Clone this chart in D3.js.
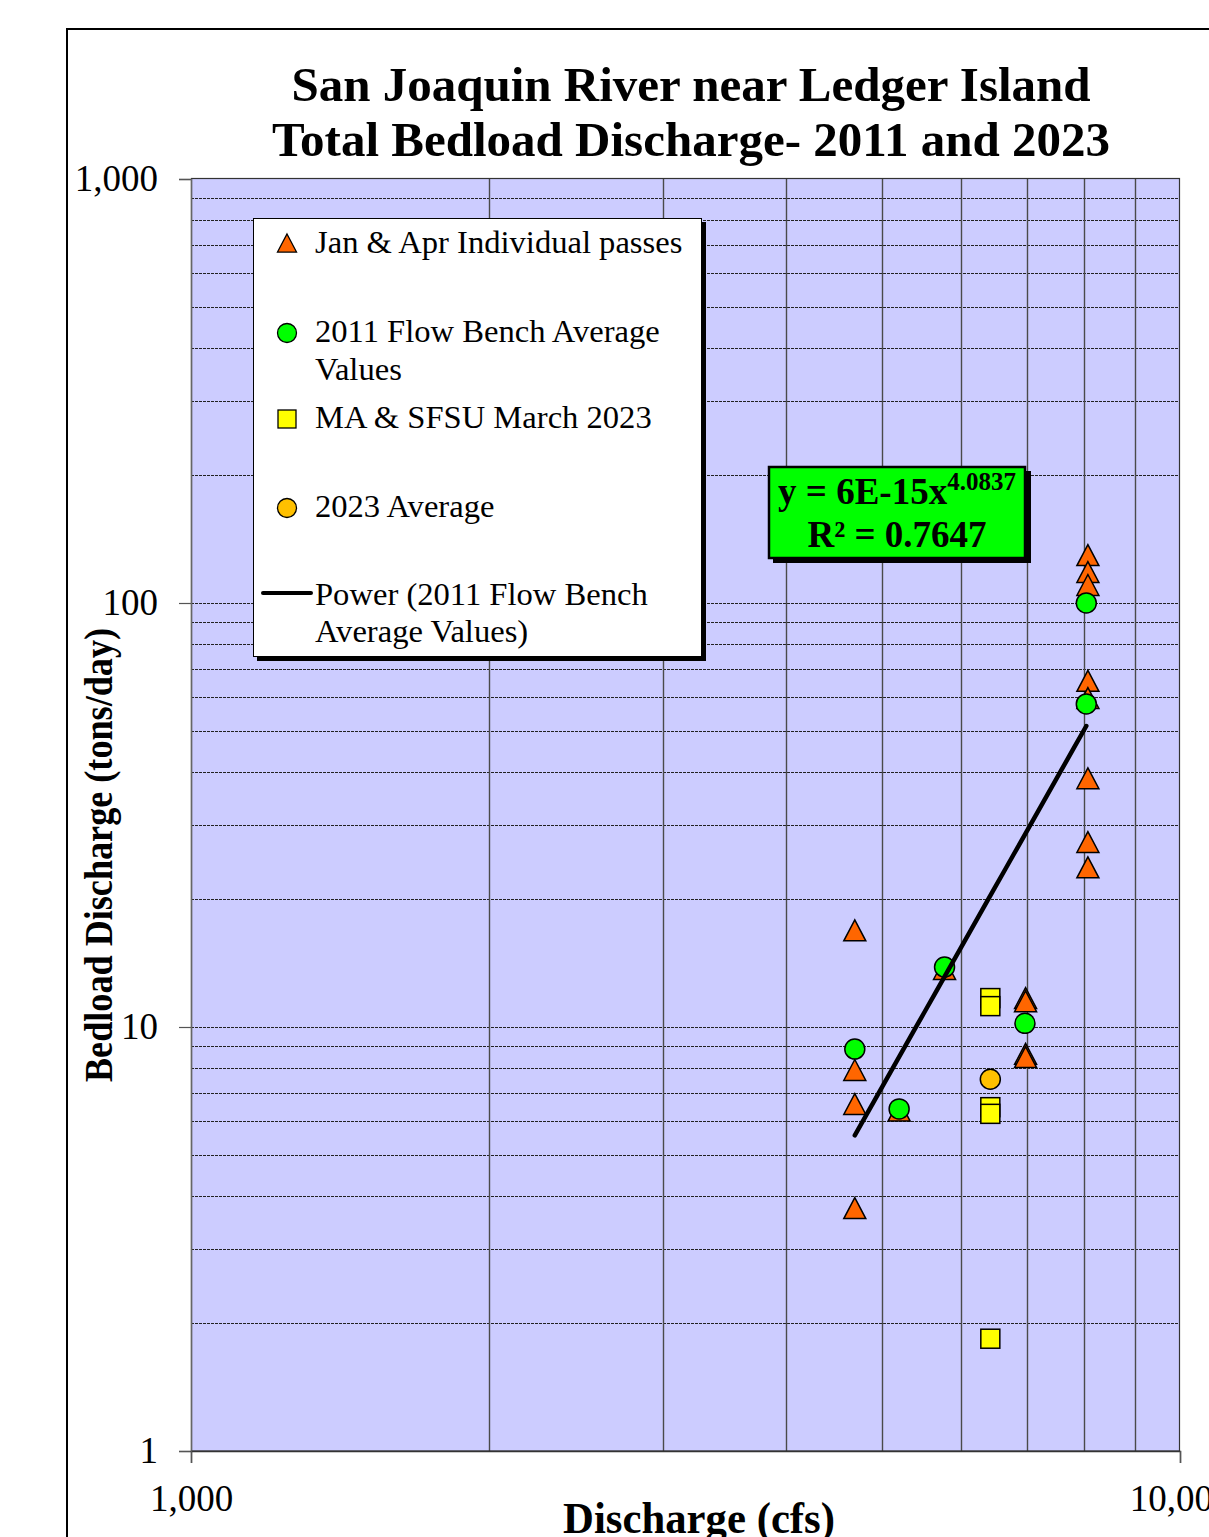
<!DOCTYPE html>
<html>
<head>
<meta charset="utf-8">
<script src="https://cdn.jsdelivr.net/npm/d3@7"></script>
<style>
  html, body { margin: 0; padding: 0; background: #fff; overflow: hidden; }
  svg { display: block; }
  text { font-family: "Liberation Serif", "Times New Roman", serif; fill: #000; }
</style>
</head>
<body>
<svg id="chart" width="1209" height="1537"></svg>
<script>
// ---------- data ----------
const titleLines = ["San Joaquin River near Ledger Island", "Total Bedload Discharge- 2011 and 2023"];
const xTitle = "Discharge (cfs)";
const yTitle = "Bedload Discharge (tons/day)";
const xTicks = [1000, 10000];
const yTicks = [1, 10, 100, 1000];

// Jan & Apr Individual passes
const passQ    = [4690, 4690, 4690, 4690, 5200, 5780, 6980, 6980, 6980, 6980, 8070, 8070, 8070, 8070, 8070, 8070, 8070, 8070];
const passLoad = [16.9, 7.92, 6.58, 3.74, 6.35, 13.7, 11.7, 11.5, 8.64, 8.49, 129.7, 118.3, 110.3, 65.5, 59.7, 38.6, 27.3, 23.8];
// 2011 Flow Bench Average Values
const benchQ    = [4690, 5200, 5780, 6970, 8040, 8040];
const benchLoad = [8.87, 6.41, 13.85, 10.2, 57.8, 100];
// MA & SFSU March 2023
const maQ    = [6430, 6430, 6430, 6430, 6430];
const maLoad = [11.7, 11.2, 6.47, 6.24, 1.84];
// 2023 Average
const avgQ    = [6430];
const avgLoad = [7.53];

const legendLabels = [
  ["Jan & Apr Individual passes"],
  ["2011 Flow Bench Average", "Values"],
  ["MA & SFSU March 2023"],
  ["2023 Average"],
  ["Power (2011 Flow Bench", "Average Values)"]
];
const eqMain = "y = 6E-15x";
const eqExp = "4.0837";
const eqR2 = "R² = 0.7647";

// ---------- layout ----------
const svg = d3.select("#chart");
const L = 191, R = 1180, T = 179, B = 1451;
const x = d3.scaleLog().domain([1000, 10000]).range([L, R]);
const y = d3.scaleLog().domain([1, 1000]).range([B, T]);

const colors = { pass: "#FF6600", bench: "#00FF00", ma: "#FFFF00", avg: "#FFC000", plot: "#CCCCFF" };

// outer frame
svg.append("line").attr("x1", 67).attr("x2", 1209).attr("y1", 29).attr("y2", 29)
  .attr("stroke", "#000").attr("stroke-width", 2);
svg.append("line").attr("x1", 67).attr("x2", 67).attr("y1", 28).attr("y2", 1537)
  .attr("stroke", "#000").attr("stroke-width", 2);

// title
svg.append("text").attr("x", 691).attr("y", 101).attr("text-anchor", "middle")
  .attr("font-size", 49).attr("font-weight", "bold").text(titleLines[0]);
svg.append("text").attr("x", 691).attr("y", 156).attr("text-anchor", "middle")
  .attr("font-size", 49).attr("font-weight", "bold").text(titleLines[1]);

// plot area
svg.append("rect").attr("x", L).attr("y", T).attr("width", R - L).attr("height", B - T)
  .attr("fill", colors.plot);

// grid lines
const xGrid = [];
for (let d = 2; d <= 9; d++) xGrid.push(d * 1000);
const yGrid = [];
[1, 10, 100].forEach(b => { for (let d = 2; d <= 9; d++) yGrid.push(b * d); });
yGrid.push(10, 100);

const g = svg.append("g");
g.selectAll(".hg").data(yGrid).enter().append("line")
  .attr("x1", L).attr("x2", R)
  .attr("y1", d => Math.round(y(d)) + 0.5).attr("y2", d => Math.round(y(d)) + 0.5)
  .attr("stroke", "#222").attr("stroke-width", 1.2).attr("stroke-dasharray", "3,1");
g.selectAll(".vg").data(xGrid).enter().append("line")
  .attr("y1", T).attr("y2", B)
  .attr("x1", d => Math.round(x(d)) + 0.5).attr("x2", d => Math.round(x(d)) + 0.5)
  .attr("stroke", "#4a4a4a").attr("stroke-width", 1.4);

// plot border
svg.append("rect").attr("x", L + 0.5).attr("y", T - 0.5).attr("width", R - L - 1).attr("height", B - T + 0.5)
  .attr("fill", "none").attr("stroke", "#333").attr("stroke-width", 1.2);

// axes
const yAxis = d3.axisLeft(y).tickValues(yTicks).tickSize(12).tickPadding(21).tickFormat(d3.format(","));
const ya = svg.append("g").attr("transform", `translate(${L},0)`).call(yAxis);
ya.select(".domain").attr("stroke", "#666").attr("stroke-width", 1.5);
ya.selectAll(".tick line").attr("stroke", "#555").attr("stroke-width", 1.2);
ya.selectAll(".tick text").attr("font-size", 37).attr("font-family", "Liberation Serif, serif").attr("fill", "#000");

const xAxis = d3.axisBottom(x).tickValues(xTicks).tickSize(12).tickPadding(22).tickFormat(d3.format(","));
const xa = svg.append("g").attr("transform", `translate(0,${B})`).call(xAxis);
xa.select(".domain").attr("stroke", "#333").attr("stroke-width", 1.5);
xa.selectAll(".tick line").attr("stroke", "#555").attr("stroke-width", 1.2);
xa.selectAll(".tick text").attr("font-size", 37).attr("font-family", "Liberation Serif, serif").attr("fill", "#000");

// axis titles
svg.append("text").attr("x", 699).attr("y", 1533).attr("text-anchor", "middle")
  .attr("font-size", 44).attr("font-weight", "bold")
  .attr("textLength", 272).attr("lengthAdjust", "spacingAndGlyphs").text(xTitle);
svg.append("text").attr("transform", "translate(112,855) rotate(-90)").attr("text-anchor", "middle")
  .attr("font-size", 40).attr("font-weight", "bold")
  .attr("textLength", 454).attr("lengthAdjust", "spacingAndGlyphs").text(yTitle);

// ---------- marks ----------
const triPath = (w) => {
  const h = w * 0.95;
  return `M0,${-h / 2}L${w / 2},${h / 2}L${-w / 2},${h / 2}Z`;
};

const passData = passQ.map((q, i) => ({ q, v: passLoad[i] }));
const benchData = benchQ.map((q, i) => ({ q, v: benchLoad[i] }));
const maData = maQ.map((q, i) => ({ q, v: maLoad[i] }));
const avgData = avgQ.map((q, i) => ({ q, v: avgLoad[i] }));

const marks = svg.append("g");
marks.selectAll(".pass").data(passData).enter().append("path")
  .attr("d", triPath(22))
  .attr("transform", d => `translate(${x(d.q)},${y(d.v)})`)
  .attr("fill", colors.pass).attr("stroke", "#000").attr("stroke-width", 1.5).attr("stroke-linejoin", "miter");

// trend line (power fit to bench values, least squares in log-log space)
const lx = benchData.map(d => Math.log10(d.q)), ly = benchData.map(d => Math.log10(d.v));
const mx = d3.mean(lx), my = d3.mean(ly);
const slope = d3.sum(lx.map((v, i) => (v - mx) * (ly[i] - my))) / d3.sum(lx.map(v => (v - mx) ** 2));
const icpt = my - slope * mx;
const [qmin, qmax] = d3.extent(benchQ);
const trend = d3.range(0, 21).map(i => {
  const q = qmin * Math.pow(qmax / qmin, i / 20);
  return { q, v: Math.pow(10, icpt + slope * Math.log10(q)) };
});

marks.selectAll(".bench").data(benchData).enter().append("circle")
  .attr("cx", d => x(d.q)).attr("cy", d => y(d.v)).attr("r", 10)
  .attr("fill", colors.bench).attr("stroke", "#000").attr("stroke-width", 1.5);

marks.selectAll(".ma").data(maData).enter().append("rect")
  .attr("x", d => x(d.q) - 9.5).attr("y", d => y(d.v) - 9.5).attr("width", 19).attr("height", 19)
  .attr("fill", colors.ma).attr("stroke", "#000").attr("stroke-width", 1.5);

marks.selectAll(".avg").data(avgData).enter().append("circle")
  .attr("cx", d => x(d.q)).attr("cy", d => y(d.v)).attr("r", 10)
  .attr("fill", colors.avg).attr("stroke", "#000").attr("stroke-width", 1.5);

marks.append("path").datum(trend)
  .attr("d", d3.line().x(d => x(d.q)).y(d => y(d.v)))
  .attr("fill", "none").attr("stroke", "#000").attr("stroke-width", 4.5).attr("stroke-linecap", "round");

// ---------- legend ----------
const lg = svg.append("g");
lg.append("rect").attr("x", 257).attr("y", 222).attr("width", 449).attr("height", 439).attr("fill", "#000");
lg.append("rect").attr("x", 253.5).attr("y", 218.5).attr("width", 448).attr("height", 438)
  .attr("fill", "#fff").attr("stroke", "#000").attr("stroke-width", 1);

const lfs = 32.6;
const addLines = (lines, y0, dy) => {
  lines.forEach((t, i) => lg.append("text").attr("x", 315).attr("y", y0 + i * dy).attr("font-size", lfs).text(t));
};
lg.append("path").attr("d", triPath(19)).attr("transform", "translate(287,243)")
  .attr("fill", colors.pass).attr("stroke", "#000").attr("stroke-width", 1.3);
addLines(legendLabels[0], 253, 38);
lg.append("circle").attr("cx", 287).attr("cy", 333).attr("r", 9.5)
  .attr("fill", colors.bench).attr("stroke", "#000").attr("stroke-width", 1.3);
addLines(legendLabels[1], 342, 38);
lg.append("rect").attr("x", 278).attr("y", 410).attr("width", 18).attr("height", 18)
  .attr("fill", colors.ma).attr("stroke", "#000").attr("stroke-width", 1.3);
addLines(legendLabels[2], 428, 38);
lg.append("circle").attr("cx", 287).attr("cy", 508).attr("r", 9.5)
  .attr("fill", colors.avg).attr("stroke", "#000").attr("stroke-width", 1.3);
addLines(legendLabels[3], 517, 38);
lg.append("line").attr("x1", 263).attr("x2", 311).attr("y1", 593).attr("y2", 593)
  .attr("stroke", "#000").attr("stroke-width", 4).attr("stroke-linecap", "round");
addLines(legendLabels[4], 605, 37);

// ---------- equation box ----------
const eg = svg.append("g");
eg.append("rect").attr("x", 773).attr("y", 471).attr("width", 258).attr("height", 92).attr("fill", "#000");
eg.append("rect").attr("x", 769).attr("y", 467).attr("width", 256).attr("height", 91)
  .attr("fill", "#00FF00").attr("stroke", "#000").attr("stroke-width", 2.5);
const e1 = eg.append("text").attr("x", 897).attr("y", 504).attr("text-anchor", "middle")
  .attr("font-size", 37).attr("font-weight", "bold");
e1.append("tspan").text(eqMain);
e1.append("tspan").attr("font-size", 25).attr("dy", -14).text(eqExp);
eg.append("text").attr("x", 897).attr("y", 547).attr("text-anchor", "middle")
  .attr("font-size", 37).attr("font-weight", "bold").text(eqR2);
</script>
</body>
</html>
